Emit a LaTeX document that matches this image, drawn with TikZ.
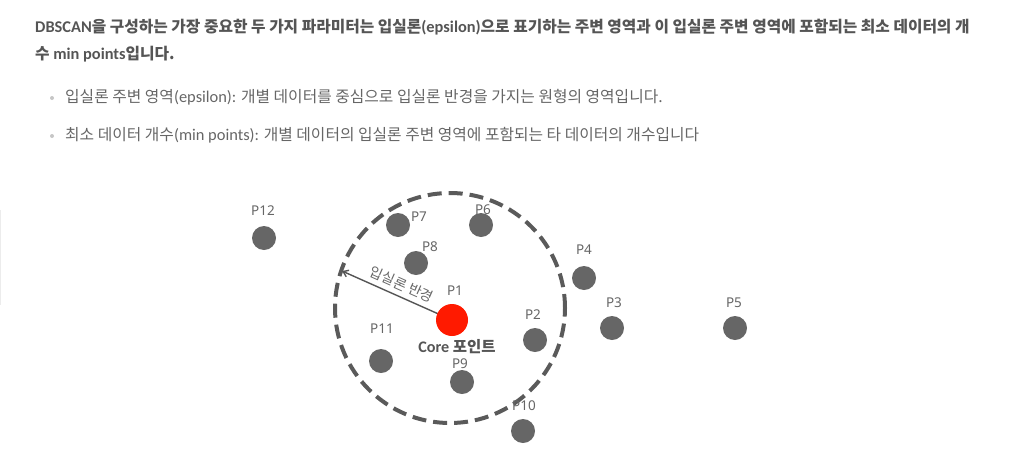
\documentclass[tikz,border=0pt]{standalone}
\usepackage{fontspec}
\setmainfont{Noto Sans CJK KR}
\newfontfamily\latinfont[Scale=1.04]{Carlito}
\newfontfamily\labelfont{Noto Sans}
\usepackage{xcolor}
\usetikzlibrary{arrows.meta}
\definecolor{headgray}{HTML}{555555}
\definecolor{textgray}{HTML}{666666}
\definecolor{dotgray}{HTML}{666666}
\definecolor{ringgray}{HTML}{5A5A5A}
\definecolor{corered}{HTML}{FF1A00}

\begin{document}
\begin{tikzpicture}[
        x=1pt, y=-1pt,
        headline/.style={anchor=west, inner sep=0pt, font=\bfseries\fontsize{15.75}{18}\selectfont, text=headgray},
        bulletline/.style={anchor=west, inner sep=0pt, font=\fontsize{15.8}{18}\selectfont, text=textgray},
        bulletdot/.style={circle, fill=gray!45, inner sep=0pt, minimum size=4pt},
        point/.style={circle, fill=dotgray, inner sep=0pt, minimum size=24pt},
        core/.style={circle, fill=corered, inner sep=0pt, minimum size=32pt},
        plabel/.style={inner sep=0pt, font=\labelfont\fontsize{13.5}{15}\selectfont, text=textgray},
        region/.style={circle, draw=ringgray, line width=4pt, dash pattern=on 14pt off 7pt, inner sep=0pt, minimum size=230pt},
        radius/.style={draw=headgray, line width=1.4pt, -{Straight Barb[length=5pt, width=7pt]}},
    ]
    \useasboundingbox (0,0) rectangle (1016,450);
    \draw[gray!15] (0.5,210) -- (0.5,305);
    % TEXT
    \node[headline] (head1) at (35,27) {{\latinfont DBSCAN}을 구성하는 가장 중요한 두 가지 파라미터는 입실론{\latinfont (epsilon)}으로 표기하는 주변 영역과 이 입실론 주변 영역에 포함되는 최소 데이터의 개};
    \node[headline] (head2) at (35,54) {수 {\latinfont min points}입니다.};
    \node[bulletdot] (dot1) at (52,98) {};
    \node[bulletline] (item1) at (65,97) {입실론 주변 영역{\latinfont (epsilon):} 개별 데이터를 중심으로 입실론 반경을 가지는 원형의 영역입니다.};
    \node[bulletdot] (dot2) at (52,136) {};
    \node[bulletline] (item2) at (65,135) {최소 데이터 개수{\latinfont (min points):} 개별 데이터의 입실론 주변 영역에 포함되는 타 데이터의 개수입니다};
    % EPSILON REGION
    \node[region] (ring) at (450,308) {};
    \coordinate (c1) at (452,320);
    \coordinate (edge) at (342,271);
    \draw[radius] (c1) -- (edge) node[midway, sloped, above=5pt, inner sep=0pt, font=\fontsize{14}{16}\selectfont, text=textgray] (epslabel) {입실론 반경};
    \node[core] (p1) at (c1) {};
    % POINTS
    \node[point] (p2) at (535,340) {}; \node[point] (p3) at (612,328) {};
    \node[point] (p4) at (584,278) {}; \node[point] (p5) at (735,328) {};
    \node[point] (p6) at (481,225) {}; \node[point] (p7) at (398,225) {};
    \node[point] (p8) at (416,263) {}; \node[point] (p9) at (462,382) {};
    \node[point] (p10) at (523,431) {}; \node[point] (p11) at (381,361) {};
    \node[point] (p12) at (264,238) {};
    \foreach \n/\x/\y in {1/455/291, 2/533/315, 3/614/303, 4/584/250, 5/734/303, 6/483/210, 7/419/217, 8/430/247, 9/460/364, 10/524/406, 11/382/329, 12/263/211}
        \node[plabel] (t\n) at (\x,\y) {P\n};
    \node[font=\bfseries\fontsize{15.5}{18}\selectfont, text=headgray, inner sep=0pt] (corelabel) at (457,347) {{\latinfont Core} 포인트};
\end{tikzpicture}
\end{document}
